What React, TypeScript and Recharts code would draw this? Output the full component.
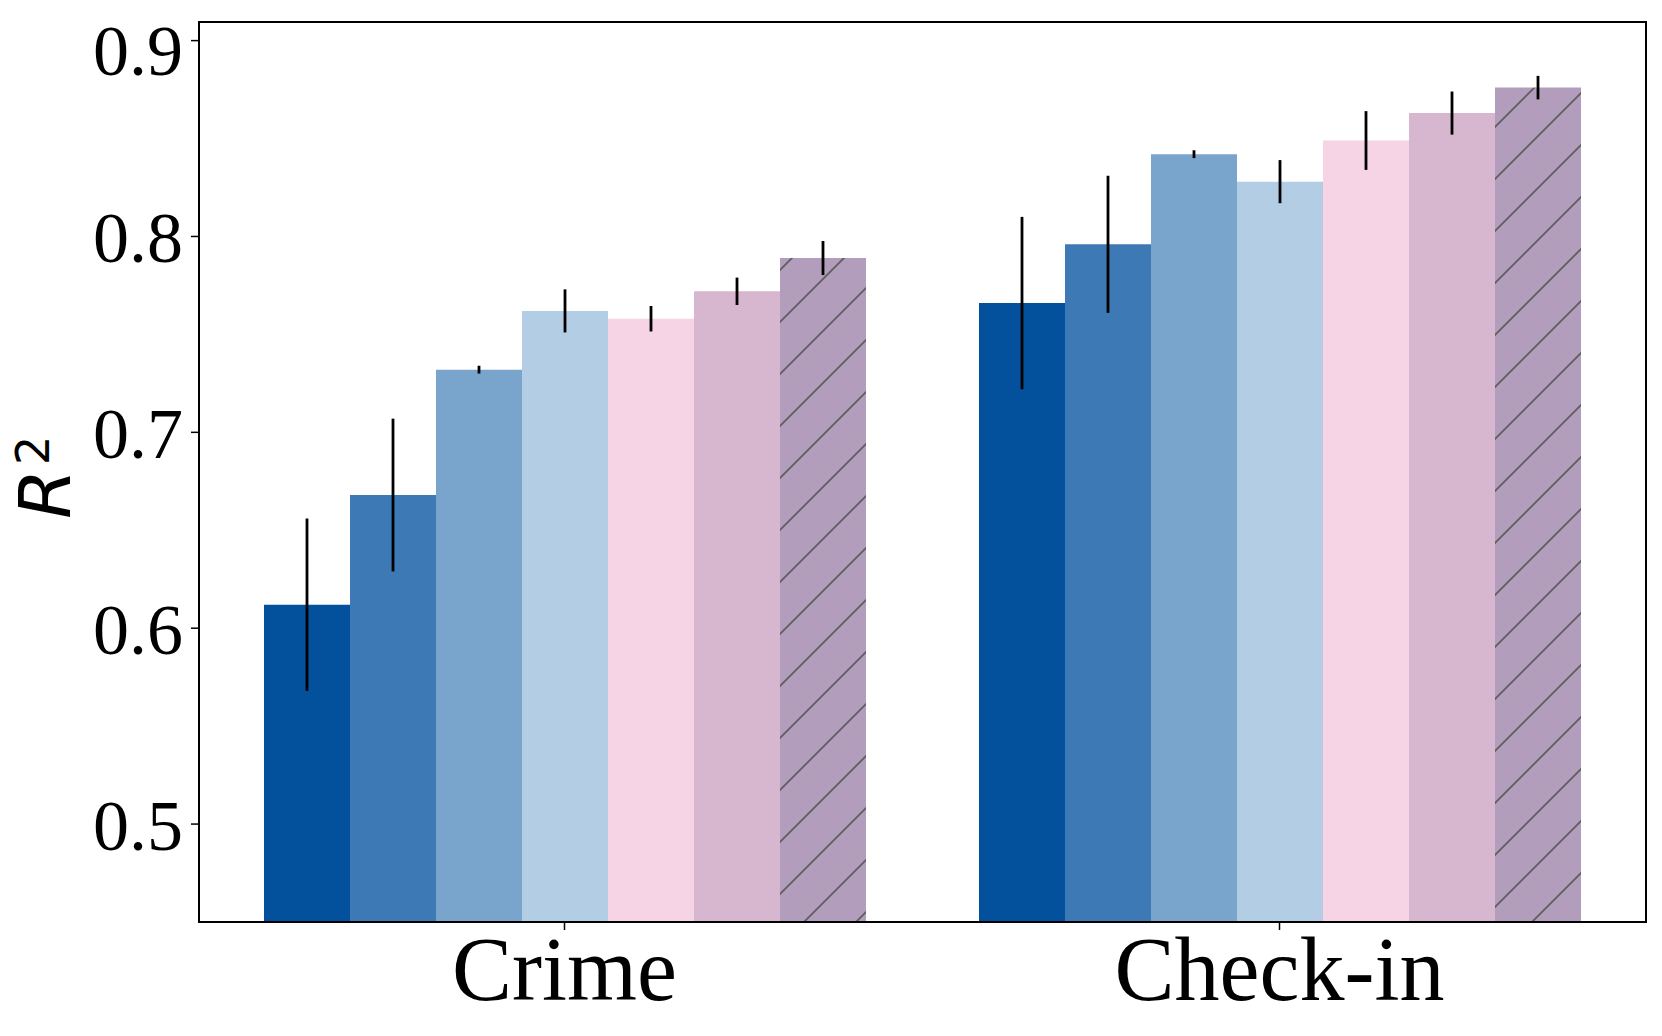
import React from 'react';
import { BarChart, Bar, XAxis, YAxis, ErrorBar } from 'recharts';

// categories on the x axis
const CATEGORIES = ['Crime', 'Check-in'];

// mean R^2 per model, one value per category
const MODEL_1 = [0.612, 0.766];
const MODEL_2 = [0.668, 0.796];
const MODEL_3 = [0.732, 0.842];
const MODEL_4 = [0.762, 0.828];
const MODEL_5 = [0.758, 0.849];
const MODEL_6 = [0.772, 0.863];
const MODEL_7 = [0.789, 0.876];

// +/- error per model
const ERR_1 = [0.044, 0.044];
const ERR_2 = [0.039, 0.035];
const ERR_3 = [0.002, 0.002];
const ERR_4 = [0.011, 0.011];
const ERR_5 = [0.0065, 0.015];
const ERR_6 = [0.007, 0.011];
const ERR_7 = [0.0087, 0.006];

const Y_TICKS = [0.5, 0.6, 0.7, 0.8, 0.9];
const Y_DOMAIN: [number, number] = [0.45, 0.9095];

const SERIES = [
  { key: 'm1', values: MODEL_1, errors: ERR_1, fill: '#03509c' },
  { key: 'm2', values: MODEL_2, errors: ERR_2, fill: '#3d7ab5' },
  { key: 'm3', values: MODEL_3, errors: ERR_3, fill: '#79a4cc' },
  { key: 'm4', values: MODEL_4, errors: ERR_4, fill: '#b3cde4' },
  { key: 'm5', values: MODEL_5, errors: ERR_5, fill: '#f6d4e5' },
  { key: 'm6', values: MODEL_6, errors: ERR_6, fill: '#d7b6cf' },
  { key: 'm7', values: MODEL_7, errors: ERR_7, fill: 'url(#hatch)' },
];

const data = CATEGORIES.map((name, i) => {
  const row: Record<string, string | number> = { name };
  SERIES.forEach((s) => {
    row[s.key] = s.values[i];
    row[`${s.key}Err`] = s.errors[i];
  });
  return row;
});

const SERIF = '"Liberation Serif", "Times New Roman", serif';

// rotated R^2 label, mathtext style
const YLabel = () => (
  <text transform="translate(62, 511) rotate(-90)" fill="#000" fontFamily='"DejaVu Sans"' fontSize={72}>
    <tspan fontStyle="italic">R</tspan>
    <tspan dx={4} dy={-21} fontSize={46}>2</tspan>
  </text>
);

const App: React.FC = () => {
  return (
    <BarChart
      width={1646}
      height={1020}
      data={data}
      margin={{ top: 14, right: 8, bottom: 0, left: 0 }}
      barGap={0}
      barSize={86}
    >
      <defs>
        <pattern id="hatch" patternUnits="userSpaceOnUse" x={46} y={0} width={52} height={52}>
          <rect width={52} height={52} fill="#b29dbc" />
          <path d="M0,52 L52,0 M-6,6 L6,-6 M46,58 L58,46" stroke="#5e5e5e" strokeWidth={1.8} />
        </pattern>
      </defs>
      {/* axes frame (top / right spines) */}
      <rect x={191} y={14} width={1447} height={900} fill="none" stroke="#000" strokeWidth={2} />
      <XAxis
        dataKey="name"
        height={106}
        padding={{ left: 8, right: 9 }}
        axisLine={{ stroke: '#000', strokeWidth: 2 }}
        tickLine={{ stroke: '#000', strokeWidth: 1.5 }}
        tickSize={8}
        tickMargin={6}
        tick={{ fill: '#000', fontSize: 90, fontFamily: SERIF }}
      />
      <YAxis
        width={191}
        domain={Y_DOMAIN}
        ticks={Y_TICKS}
        allowDataOverflow
        tickFormatter={(v: number) => v.toFixed(1)}
        axisLine={{ stroke: '#000', strokeWidth: 2 }}
        tickLine={{ stroke: '#000', strokeWidth: 1.5 }}
        tickSize={8}
        tickMargin={8}
        tick={{ fill: '#000', fontSize: 72, fontFamily: SERIF }}
        label={<YLabel />}
      />
      {SERIES.map((s) => (
        <Bar key={s.key} dataKey={s.key} fill={s.fill} isAnimationActive={false}>
          <ErrorBar dataKey={`${s.key}Err`} width={0} stroke="#000" strokeWidth={2.8} direction="y" isAnimationActive={false} />
        </Bar>
      ))}
    </BarChart>
  );
};

export default App;
